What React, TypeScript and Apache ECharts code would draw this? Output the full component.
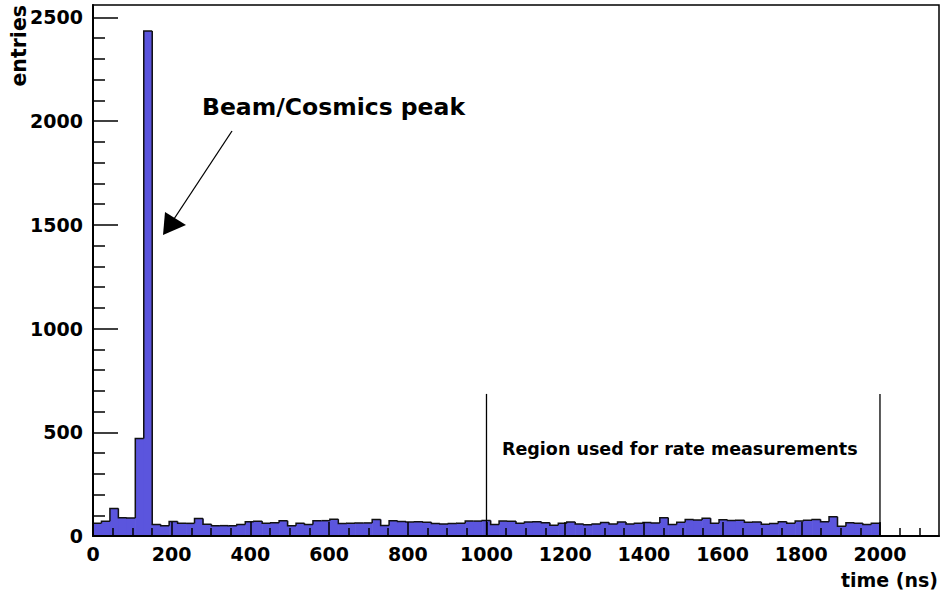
import React, { useEffect, useRef } from "react";
import * as echarts from "echarts";

// Histogram of hit times: 100 bins of 21.5 ns between 0 and 2150 ns, filled up to 2000 ns.
const binWidth = 21.5;
const xMax = 2150;
const yMax = 2560;

const counts = [
  61, 71, 133, 88, 87, 470, 2435, 56, 49, 70,
  61, 61, 84, 57, 50, 50, 49, 56, 69, 71,
  62, 64, 73, 50, 61, 56, 74, 74, 81, 60,
  61, 63, 63, 80, 51, 74, 70, 67, 69, 66,
  60, 58, 60, 61, 72, 72, 75, 56, 72, 71,
  62, 68, 69, 64, 52, 61, 68, 58, 54, 58,
  65, 58, 68, 58, 61, 65, 63, 88, 56, 66,
  80, 77, 85, 61, 78, 75, 76, 66, 68, 57,
  60, 69, 61, 72, 76, 80, 69, 93, 47, 64,
  61, 55, 62,
];

// Bounds of the window used for the rate measurement, and the height the markers reach.
const regionBounds = [1000, 2000];
const regionMarkerTop = 685;

const xMajorTicks = [0, 200, 400, 600, 800, 1000, 1200, 1400, 1600, 1800, 2000];
const xMinorTicks: number[] = [];
for (let v = 50; v < xMax; v += 50) if (v % 200 !== 0) xMinorTicks.push(v);
const yMajorTicks = [0, 500, 1000, 1500, 2000, 2500];
const yMinorTicks: number[] = [];
for (let v = 100; v < yMax; v += 100) if (v % 500 !== 0) yMinorTicks.push(v);

const FONT = '"DejaVu Sans", "Liberation Sans", sans-serif';
const FILL = "#5b55dd";
const EDGE = "#111111";

export default function App() {
  const ref = useRef<HTMLDivElement>(null);

  useEffect(() => {
    if (!ref.current) return;
    const chart = echarts.init(ref.current, undefined, { renderer: "svg" });

    const bins = counts.map((c, i) => [
      i * binWidth,
      (i + 1) * binWidth,
      c,
      i === 0 ? 0 : counts[i - 1],
    ]);
    const last = counts.length - 1;

    const labelStyle = {
      fontFamily: FONT,
      fontWeight: "bold" as const,
      fontSize: 19,
      color: "#000",
      formatter: (v: number) => String(v),
    };

    chart.setOption({
      animation: false,
      backgroundColor: "#fff",
      grid: {
        left: 93,
        right: 2,
        top: 5,
        bottom: 61,
        show: true,
        borderColor: "#000",
        borderWidth: 1.5,
        backgroundColor: "transparent",
      },
      xAxis: [
        {
          type: "value",
          min: 0,
          max: xMax,
          position: "bottom",
          z: 10,
          axisLine: { show: true, onZero: false, lineStyle: { color: "#000", width: 2 } },
          axisTick: {
            show: true,
            inside: true,
            length: 14,
            customValues: xMajorTicks,
            lineStyle: { color: "#000", width: 1.5 },
          },
          axisLabel: { ...labelStyle, margin: 8, customValues: xMajorTicks },
          splitLine: { show: false },
        },
        {
          type: "value",
          min: 0,
          max: xMax,
          position: "bottom",
          z: 10,
          axisLine: { show: false, onZero: false },
          axisTick: {
            show: true,
            inside: true,
            length: 8,
            customValues: xMinorTicks,
            lineStyle: { color: "#000", width: 1.5 },
          },
          axisLabel: { show: false },
          splitLine: { show: false },
        },
      ],
      yAxis: [
        {
          type: "value",
          min: 0,
          max: yMax,
          position: "left",
          z: 10,
          axisLine: { show: true, onZero: false, lineStyle: { color: "#000", width: 2 } },
          axisTick: {
            show: true,
            inside: true,
            length: 25,
            customValues: yMajorTicks,
            lineStyle: { color: "#000", width: 1.5 },
          },
          axisLabel: { ...labelStyle, margin: 10, customValues: yMajorTicks },
          splitLine: { show: false },
        },
        {
          type: "value",
          min: 0,
          max: yMax,
          position: "left",
          z: 10,
          axisLine: { show: false, onZero: false },
          axisTick: {
            show: true,
            inside: true,
            length: 12,
            customValues: yMinorTicks,
            lineStyle: { color: "#000", width: 1.5 },
          },
          axisLabel: { show: false },
          splitLine: { show: false },
        },
      ],
      series: [
        {
          type: "custom",
          name: "fill",
          xAxisIndex: 0,
          yAxisIndex: 0,
          z: 2,
          data: bins,
          encode: { x: [0, 1], y: 2 },
          renderItem: (params: any, api: any) => {
            const base = api.coord([api.value(0), 0]);
            const top = api.coord([api.value(1), api.value(2)]);
            return {
              type: "rect",
              shape: {
                x: base[0],
                y: top[1],
                width: top[0] - base[0] + 0.6,
                height: base[1] - top[1],
              },
              style: { fill: FILL },
            };
          },
        },
        {
          type: "custom",
          name: "outline",
          xAxisIndex: 0,
          yAxisIndex: 0,
          z: 3,
          data: bins,
          encode: { x: [0, 1], y: 2 },
          renderItem: (params: any, api: any) => {
            const l = api.value(0);
            const r = api.value(1);
            const v = api.value(2);
            const pv = api.value(3);
            const points = [api.coord([l, pv]), api.coord([l, v]), api.coord([r, v])];
            if (params.dataIndex === last) points.push(api.coord([r, 0]));
            return {
              type: "polyline",
              shape: { points },
              style: { stroke: EDGE, lineWidth: 1.5, fill: "none" },
            };
          },
        },
        ...regionBounds.map((b) => ({
          type: "line",
          xAxisIndex: 0,
          yAxisIndex: 0,
          z: 4,
          symbol: "none",
          silent: true,
          data: [
            [b, 0],
            [b, regionMarkerTop],
          ],
          lineStyle: { color: "#000", width: 1.3 },
        })),
      ],
      graphic: [
        {
          type: "text",
          x: 202,
          y: 107,
          style: {
            text: "Beam/Cosmics peak",
            font: `bold 23.5px ${FONT}`,
            fill: "#000",
            align: "left",
            verticalAlign: "middle",
          },
        },
        {
          type: "line",
          shape: { x1: 232, y1: 131, x2: 172, y2: 222 },
          style: { stroke: "#000", lineWidth: 1.3 },
        },
        {
          type: "polygon",
          shape: {
            points: [
              [163, 235],
              [165, 212],
              [186, 225],
            ],
          },
          style: { fill: "#000" },
        },
        {
          type: "text",
          x: 502,
          y: 449,
          style: {
            text: "Region used for rate measurements",
            font: `bold 17.5px ${FONT}`,
            fill: "#000",
            align: "left",
            verticalAlign: "middle",
          },
        },
        {
          type: "text",
          x: 938,
          y: 580,
          style: {
            text: "time (ns)",
            font: `bold 19px ${FONT}`,
            fill: "#000",
            align: "right",
            verticalAlign: "middle",
          },
        },
        {
          type: "text",
          x: 19,
          y: 5,
          rotation: Math.PI / 2,
          style: {
            text: "entries",
            font: `bold 20.5px ${FONT}`,
            fill: "#000",
            align: "right",
            verticalAlign: "middle",
          },
        },
      ],
    });

    return () => chart.dispose();
  }, []);

  return (
    <div
      ref={ref}
      style={{ position: "fixed", left: 0, top: 0, width: 941, height: 597, background: "#fff" }}
    />
  );
}
